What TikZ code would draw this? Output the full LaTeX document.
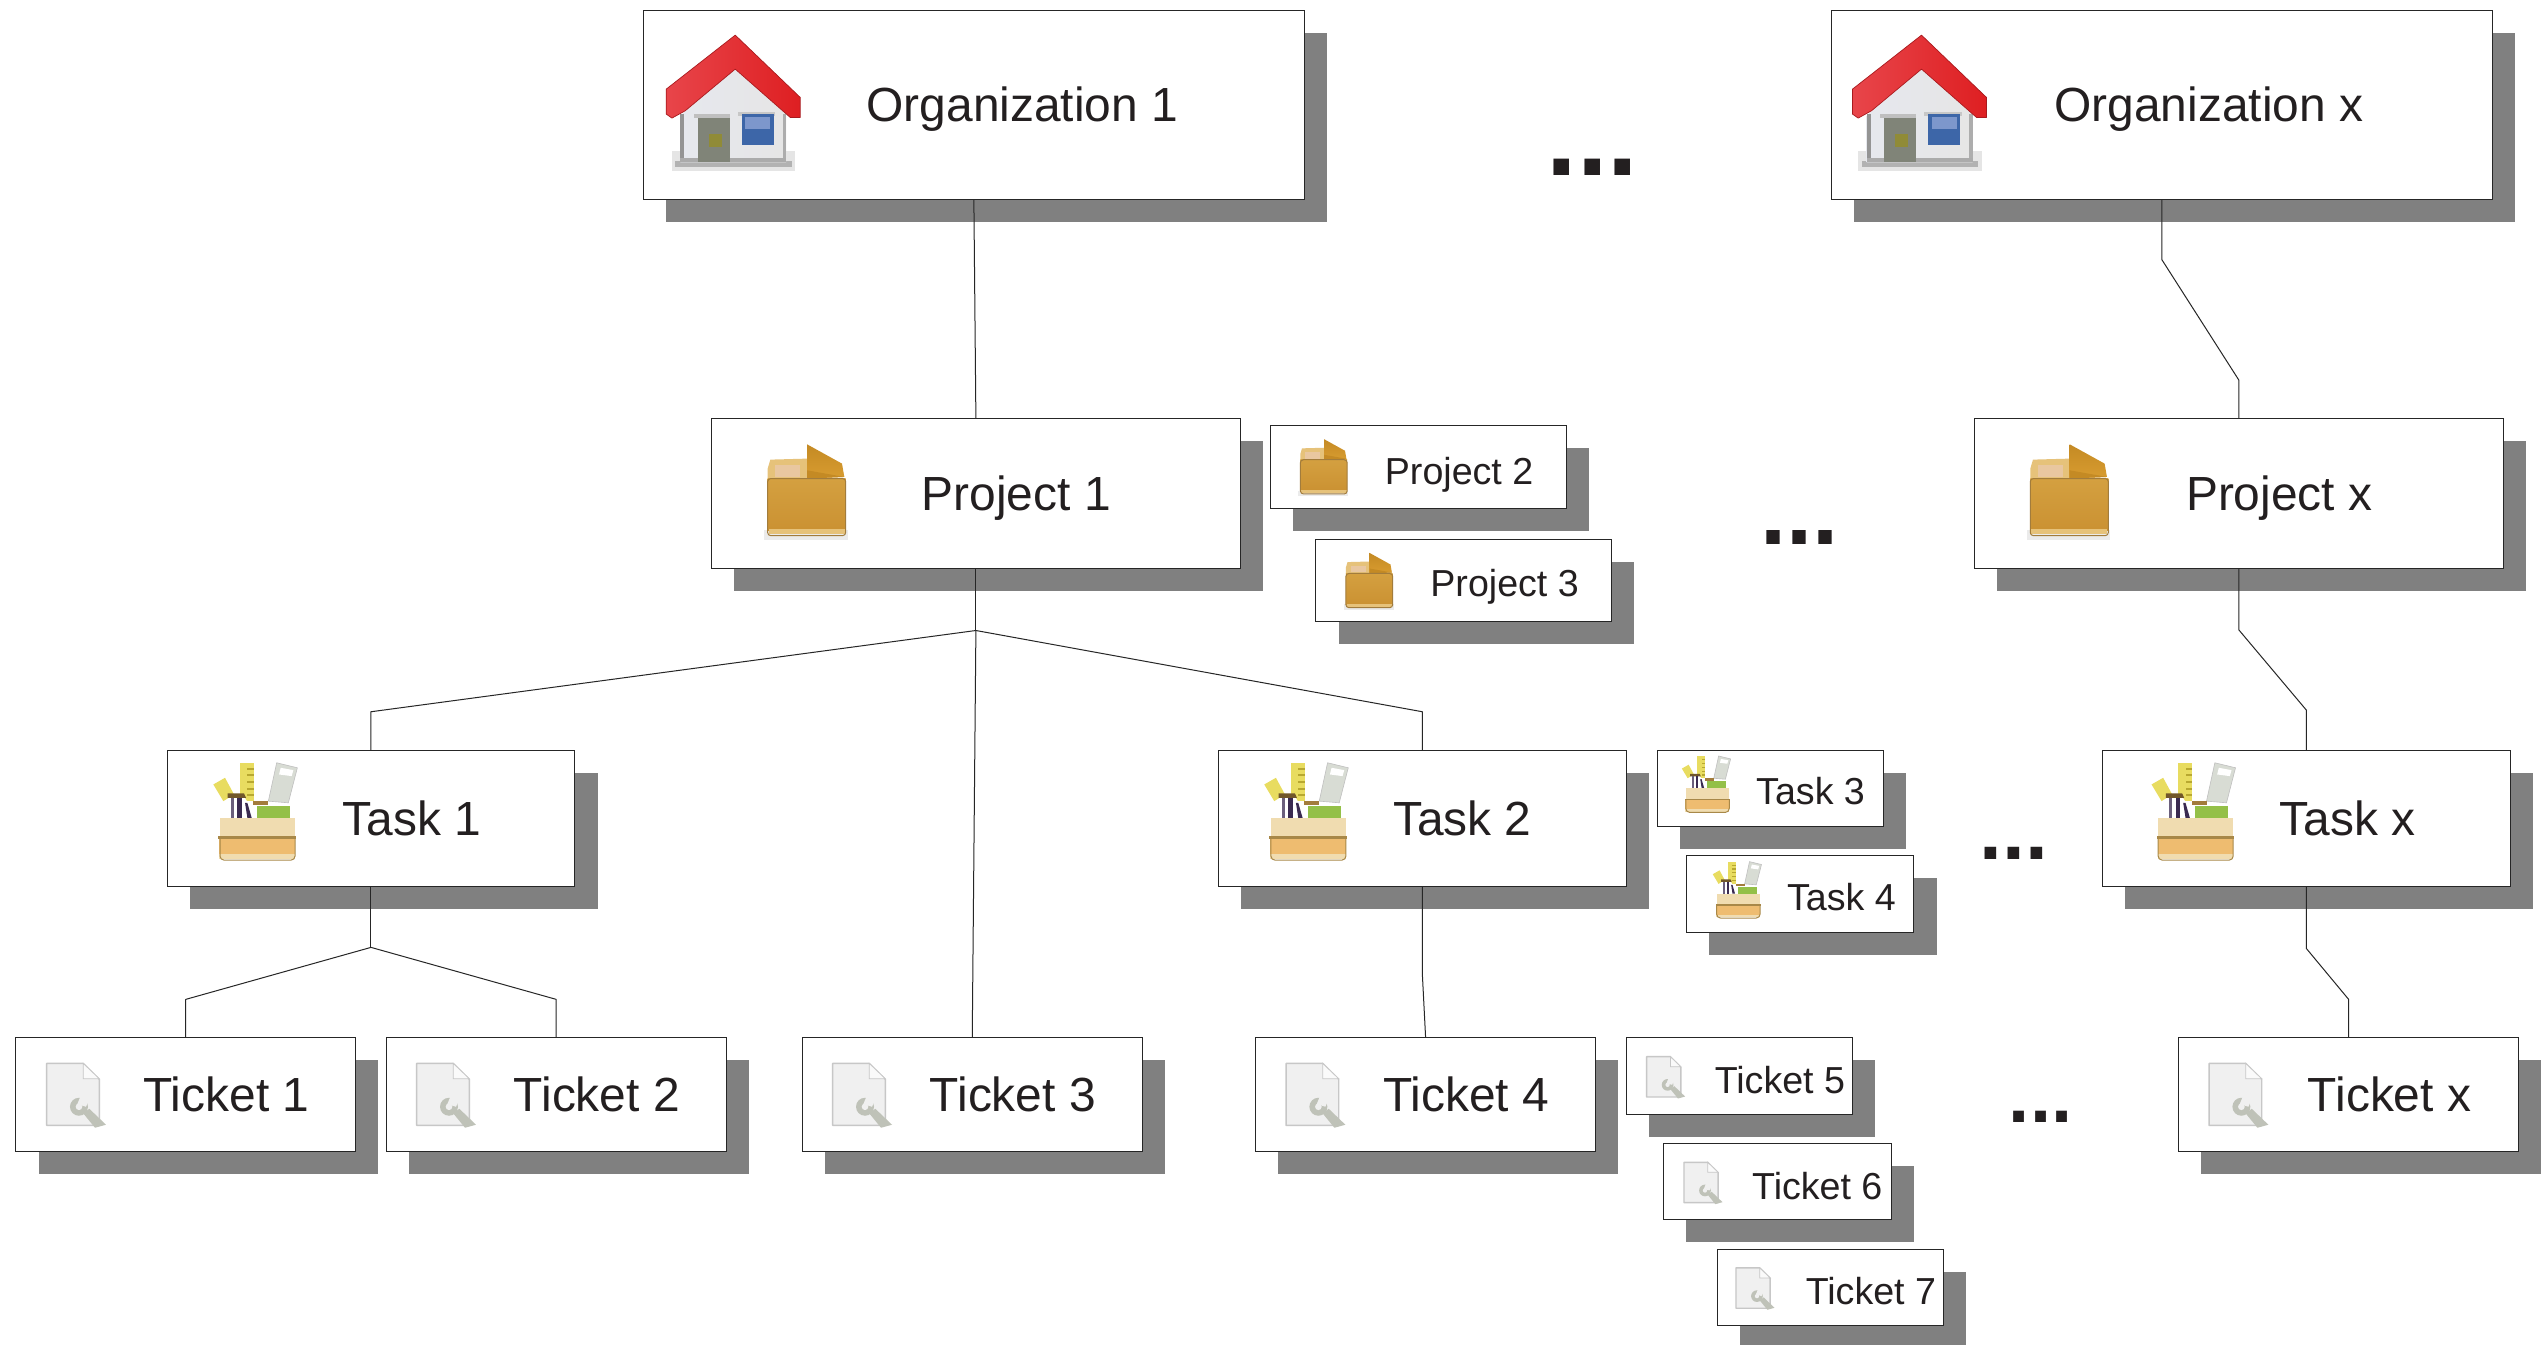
\documentclass[tikz,border=0pt]{standalone}
\usepackage{fontspec}
\setmainfont{Liberation Sans}
\definecolor{shadowgray}{HTML}{808080}
\definecolor{inkc}{HTML}{231F20}
\definecolor{roofa}{HTML}{E8454A}
\definecolor{roofb}{HTML}{DE1F22}
\definecolor{roofe}{HTML}{A81A1E}
\definecolor{wallc}{HTML}{E6E8EE}
\definecolor{doorc}{HTML}{808478}
\definecolor{winb}{HTML}{3D66A8}
\definecolor{wint}{HTML}{7D97CC}
\definecolor{tana}{HTML}{D4A040}
\definecolor{tanb}{HTML}{C98F30}
\definecolor{tanl}{HTML}{E6C27A}
\definecolor{tanp}{HTML}{E9C7A0}
\definecolor{tane}{HTML}{A27C3C}
\definecolor{flapa}{HTML}{C48A24}
\definecolor{flapb}{HTML}{D89C30}
\definecolor{rulerc}{HTML}{E8DC60}
\definecolor{rulert}{HTML}{B8A830}
\definecolor{scrollc}{HTML}{D8DCD4}
\definecolor{greenc}{HTML}{94C048}
\definecolor{lid}{HTML}{F0DCB0}
\definecolor{crate}{HTML}{EEBC70}
\definecolor{cratee}{HTML}{A88848}
\definecolor{purp}{HTML}{3A2A50}
\definecolor{wrench}{HTML}{BFC2B8}
\tikzset{
  x=0.8125pt,y=-0.8125pt,
  card/.style={draw=black!85,line width=0.5pt,fill=white,inner sep=0pt,outer sep=0pt,rectangle},
  conn/.style={draw=black!85,line width=0.5pt,line join=round},
  biglabel/.style={anchor=base west,inner sep=0pt,text=inkc,font=\fontsize{23.95}{28}\selectfont},
  smalllabel/.style={anchor=base west,inner sep=0pt,text=inkc,font=\fontsize{18.8}{22}\selectfont},
  dotslabel/.style={anchor=base west,inner sep=0pt,text=inkc}
}
% #1 name, #2 x0, #3 y0, #4 x1, #5 y1
\newcommand{\cardnode}[5]{%
  \pgfmathsetmacro{\cw}{(#4-#2)*0.8125}\pgfmathsetmacro{\ch}{(#5-#3)*0.8125}%
  \fill[shadowgray] (#2+13.7,#3+13.6) rectangle (#4+13.7,#5+13.6);
  \node[card,minimum width=\cw pt,minimum height=\ch pt] (#1) at ({(#2+#4)/2-0.2},{(#3+#5)/2-0.3}) {};
}
\newcommand{\iconscope}[5]{% x,y,ratio,ox,oy
  \begin{scope}[shift={(#1,#2)},scale=0.2051*#3,shift={(-#4,-#5)}]}
\newcommand{\houseicon}[3]{%
  \iconscope{#1}{#2}{#3}{78}{100}
  \fill[black!10] (95,450) rectangle (465,510);
  \fill[black!30] (105,480) rectangle (455,498);
  \shade[left color=wallc,right color=black!10] (120,345) -- (285,205) -- (438,340) -- (438,485) -- (120,485) -- cycle;
  \fill[black!42] (120,340) rectangle (132,485);
  \fill[black!32] (428,340) rectangle (438,485);
  \fill[black!33] (120,472) rectangle (438,485);
  \fill[black!25] (160,340) rectangle (268,352);
  \fill[black!22] (292,335) rectangle (405,345);
  \fill[doorc] (172,352) rectangle (268,485);
  \fill[olive!60!doorc] (205,400) rectangle (245,440);
  \fill[winb] (305,340) rectangle (400,432);
  \fill[wint] (315,350) rectangle (390,385);
  \shade[left color=roofa,right color=roofb,draw=roofe,line width=0.35pt,line join=round] (285,103) -- (480,290) -- (480,350) -- (450,350) -- (285,205) -- (135,330) -- (95,352) -- (78,340) -- (78,265) -- cycle;
  \end{scope}}
\newcommand{\boxicon}[3]{%
  \iconscope{#1}{#2}{#3}{80}{100}
  \fill[black!8] (72,360) rectangle (322,388);
  \fill[tanl] (90,148) -- (200,145) -- (200,205) -- (82,205) -- (82,175) -- cycle;
  \fill[tanp] (105,165) rectangle (180,200);
  \shade[top color=flapa,bottom color=flapb] (200,102) -- (305,160) -- (312,200) -- (200,205) -- cycle;
  \fill[flapa] (200,180) -- (312,200) -- (200,205) -- cycle;
  \shade[top color=tana,bottom color=tanb!85!tana] (82,205) rectangle (316,360);
  \fill[tanl] (85,356) rectangle (313,372);
  \draw[tane,line width=0.5pt,rounded corners=1.5] (82,205) -- (82,376) -- (316,376) -- (316,205) -- cycle;
  \end{scope}}
\newcommand{\toolicon}[3]{%
  \iconscope{#1}{#2}{#3}{160}{68}
  \fill[rulerc] (160,135) -- (195,115) -- (222,165) -- (190,185) -- cycle;
  \fill[rulerc] (240,70) rectangle (282,185);
  \foreach \ty in {85,105,125,145,165}{\fill[rulert] (262,\ty) rectangle (282,\ty+6);}
  \fill[scrollc,draw=black!25,line width=0.3pt] (350,70) -- (412,85) -- (385,190) -- (325,185) -- cycle;
  \fill[white] (362,85) -- (400,92) -- (395,110) -- (357,105) -- cycle;
  \fill[tane] (280,185) rectangle (325,198);
  \fill[white] (205,172) -- (250,168) -- (292,235) -- (205,235) -- cycle;
  \fill[tane!70!black] (203,162) -- (252,162) -- (258,175) -- (203,175) -- cycle;
  \fill[purp!75!white] (213,175) rectangle (222,235);
  \fill[purp] (232,175) rectangle (245,235);
  \fill[purp] (255,190) -- (262,190) -- (275,235) -- (262,235) -- cycle;
  \fill[greenc] (290,200) rectangle (390,235);
  \fill[lid] (180,235) rectangle (405,295);
  \fill[cratee] (175,290) rectangle (407,300);
  \fill[crate] (178,300) rectangle (405,345);
  \fill[lid] (178,345) rectangle (405,358);
  \draw[cratee,line width=0.5pt,rounded corners=2] (180,298) -- (180,362) -- (405,362) -- (405,298);
  \end{scope}}
\newcommand{\ticketicon}[3]{%
  \iconscope{#1}{#2}{#3}{138}{130}
  \filldraw[fill=black!6,draw=black!22,line width=0.7pt,line join=round] (140,132) -- (250,132) -- (298,180) -- (298,318) -- (140,318) -- cycle;
  \filldraw[fill=black!2,draw=black!22,line width=0.4pt] (250,132) -- (250,178) -- (298,178) -- cycle;
  \fill[wrench] (250,282) -- (268,268) -- (318,316) -- (285,325) -- cycle;
  \fill[wrench] (237,262) circle (27);
  \fill[black!6] (232,254) -- (242,230) -- (270,235) -- (258,262) -- cycle;
  \fill[black!6] (237,262) circle (10);
  \end{scope}}
\begin{document}
\begin{tikzpicture}
\useasboundingbox (0,0) rectangle (1568,827.08);
\fill[white] (0,0) rectangle (1568,827.08);
% Boxes
\cardnode{org1}{396}{7}{803}{123}
\cardnode{orgx}{1127}{7}{1534}{123}
\cardnode{proj1}{438}{258}{763.5}{350}
\cardnode{proj2}{782}{262}{964}{313}
\cardnode{proj3}{810}{332}{992}{383}
\cardnode{projx}{1215}{258}{1541}{350}
\cardnode{task1}{103}{462}{354}{546}
\cardnode{task2}{750}{462}{1001}{546}
\cardnode{task3}{1020}{462}{1159}{509}
\cardnode{task4}{1038}{527}{1178}{574}
\cardnode{taskx}{1294}{462}{1545}{546}
\cardnode{tick1}{10}{639}{219}{709}
\cardnode{tick2}{238}{639}{447}{709}
\cardnode{tick3}{494}{639}{703}{709}
\cardnode{tick4}{773}{639}{982}{709}
\cardnode{tick5}{1001}{639}{1140}{686}
\cardnode{tick6}{1024}{704}{1164}{751}
\cardnode{tick7}{1057}{769}{1196}{816}
\cardnode{tickx}{1341}{639}{1550}{709}
% Icons
\houseicon{410}{21}{1}
\houseicon{1140}{21}{1}
\boxicon{472}{273}{1}
\boxicon{1249}{273}{1}
\boxicon{800}{270}{0.6}
\boxicon{828}{340}{0.6}
\toolicon{131.3}{469}{1}
\toolicon{778}{469}{1}
\toolicon{1324}{469}{1}
\toolicon{1035}{465}{0.58}
\toolicon{1054}{530}{0.58}
\ticketicon{28.3}{654}{1}
\ticketicon{256}{654}{1}
\ticketicon{512}{654}{1}
\ticketicon{791}{654}{1}
\ticketicon{1359}{654}{1}
\ticketicon{1013}{650}{0.65}
\ticketicon{1036}{715}{0.65}
\ticketicon{1068}{780}{0.65}
% Labels
\node[biglabel] (lorg1) at (533,75) {Organization 1};
\node[biglabel] (lorgx) at (1264,75) {Organization x};
\node[biglabel] (lproj1) at (567,314) {Project 1};
\node[biglabel] (lprojx) at (1345,314) {Project x};
\node[smalllabel] (lproj2) at (852,298) {Project 2};
\node[smalllabel] (lproj3) at (880,367) {Project 3};
\node[biglabel] (ltask1) at (210.5,514) {Task 1};
\node[biglabel] (ltask2) at (857,514) {Task 2};
\node[biglabel] (ltaskx) at (1402.5,514) {Task x};
\node[smalllabel] (ltask3) at (1080.5,495) {Task 3};
\node[smalllabel] (ltask4) at (1099.5,560) {Task 4};
\node[biglabel] (ltick1) at (88,684) {Ticket 1};
\node[biglabel] (ltick2) at (316,684) {Ticket 2};
\node[biglabel] (ltick3) at (572,684) {Ticket 3};
\node[biglabel] (ltick4) at (851,684) {Ticket 4};
\node[biglabel] (ltickx) at (1420,684) {Ticket x};
\node[smalllabel] (ltick5) at (1055,673) {Ticket 5};
\node[smalllabel] (ltick6) at (1078,738) {Ticket 6};
\node[smalllabel] (ltick7) at (1111,803) {Ticket 7};
% Ellipses
\node[dotslabel,font=\fontsize{55}{60}\selectfont\bfseries] (dots1) at (951.5,108) {...};
\node[dotslabel,font=\fontsize{47}{50}\selectfont\bfseries] (dots2) at (1083,335) {...};
\node[dotslabel,font=\fontsize{41}{44}\selectfont\bfseries] (dots3) at (1218,529) {...};
\node[dotslabel,font=\fontsize{38}{40}\selectfont\bfseries] (dots4) at (1236,691) {...};
% Connectors
\coordinate (fork1) at (proj1.south |- 0,388);
\coordinate (fork2) at (task1.south |- 0,583);
\draw[conn] (org1.south) -- (proj1.north);
\draw[conn] (orgx.south) -- ++(0,37) -- (projx.north |- 0,234) -- (projx.north);
\draw[conn] (proj1.south) -- (fork1);
\draw[conn] (fork1) -- (task1.north |- 0,438) -- (task1.north);
\draw[conn] (fork1) -- (tick3.north);
\draw[conn] (fork1) -- (task2.north |- 0,438) -- (task2.north);
\draw[conn] (task1.south) -- (fork2);
\draw[conn] (fork2) -- (tick1.north |- 0,615) -- (tick1.north);
\draw[conn] (fork2) -- (tick2.north |- 0,615) -- (tick2.north);
\draw[conn] (task2.south) -- ++(0,54) -- (tick4.north);
\draw[conn] (projx.south) -- ++(0,38) -- (taskx.north |- 0,437) -- (taskx.north);
\draw[conn] (taskx.south) -- ++(0,38) -- (tickx.north |- 0,615) -- (tickx.north);
\end{tikzpicture}
\end{document}
